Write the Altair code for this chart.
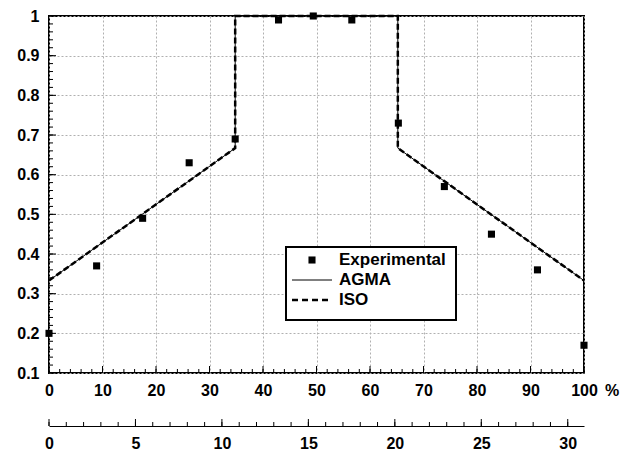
import altair as alt
import pandas as pd

# ---- data ----
exp_x = [0, 8.9, 17.5, 26.2, 34.8, 42.9, 49.4, 56.6, 65.3, 73.9, 82.7, 91.3, 100]
exp_y = [0.20, 0.37, 0.49, 0.63, 0.69, 0.99, 1.00, 0.99, 0.73, 0.57, 0.45, 0.36, 0.17]

model_x = [0, 34.8, 34.8, 65.2, 65.2, 100]
model_y = [0.333, 0.667, 1.0, 1.0, 0.667, 0.333]

series = ["Experimental", "AGMA", "ISO"]
unit_label = ["%"]

x_major = list(range(0, 101, 10))
x_minor = list(range(0, 101, 2))
y_major = [round(0.1 * i, 2) for i in range(1, 11)]
y_minor = [round(0.1 + 0.02 * i, 2) for i in range(0, 46)]
sec_major = [0, 5, 10, 15, 20, 25, 30]
sec_minor = list(range(0, 31))
sec_max = 30.94

W, H = 535, 357
FONT = "Liberation Sans"
OFF = 53

xs = alt.Scale(domain=[0, 100], nice=False, zero=False)
ys = alt.Scale(domain=[0.1, 1.0], nice=False, zero=False)
x2s = alt.Scale(domain=[0, sec_max], nice=False, zero=False)

exp_df = pd.DataFrame({"x": exp_x, "y": exp_y})
model_df = pd.concat([
    pd.DataFrame({"x": model_x, "y": model_y, "o": list(range(len(model_x))), "s": s})
    for s in ["AGMA", "ISO"]
])

grid_kw = dict(grid=True, gridColor="#b0b0b0", gridDash=[2, 2], gridWidth=1)
lab_kw = dict(labelFont=FONT, labelFontSize=16, labelFontWeight="bold", labelColor="black")

x_axis = alt.Axis(values=x_major, ticks=False, domain=False, labelPadding=9, title=None,
                  orient="bottom", labelFlush=False, **grid_kw, **lab_kw)
y_axis = alt.Axis(values=y_major, ticks=False, domain=False, labelPadding=10, title=None,
                  labelFlush=False, format="~g", **grid_kw, **lab_kw)

X = lambda f: alt.X(f, scale=xs, axis=x_axis)
Y = lambda f: alt.Y(f, scale=ys, axis=y_axis)

agma = alt.Chart(model_df).transform_filter(alt.datum.s == "AGMA").mark_line(
    color="black", strokeWidth=1).encode(x=X("x:Q"), y=Y("y:Q"), order="o:Q")

iso = alt.Chart(model_df).transform_filter(alt.datum.s == "ISO").mark_line(
    color="black", strokeWidth=2.5, strokeDash=[6, 3]).encode(
    x=X("x:Q"), y=Y("y:Q"), order="o:Q")

pts = alt.Chart(exp_df).mark_point(shape="square", filled=True, color="black",
                                   size=50, opacity=1).encode(x=X("x:Q"), y=Y("y:Q"))

# inward ticks
def xticks(vals, ln):
    return alt.Chart(pd.DataFrame({"x": vals})).mark_rule(color="black", strokeWidth=1).encode(
        x=X("x:Q"), y=alt.value(H), y2=alt.value(H - ln))

def yticks(vals, ln):
    return alt.Chart(pd.DataFrame({"y": vals})).mark_rule(color="black", strokeWidth=1).encode(
        y=Y("y:Q"), x=alt.value(0), x2=alt.value(ln))

# legend
leg_df = pd.DataFrame({"label": series})
leg_box = alt.Chart(leg_df.head(1)).mark_rect(fill="white", stroke="black", strokeWidth=2).encode(
    x=alt.value(237), x2=alt.value(407), y=alt.value(231), y2=alt.value(304))
leg_pt = alt.Chart(leg_df.head(1)).mark_point(shape="square", filled=True, color="black",
                                             size=50, opacity=1).encode(
    x=alt.value(263), y=alt.value(244))
leg_agma = alt.Chart(leg_df.head(1)).mark_rule(color="black", strokeWidth=1).encode(
    x=alt.value(243), x2=alt.value(283), y=alt.value(264))
leg_iso = alt.Chart(leg_df.head(1)).mark_rule(color="black", strokeWidth=2.5,
                                             strokeDash=[6, 4]).encode(
    x=alt.value(243), x2=alt.value(283), y=alt.value(284))
leg_txt = [
    alt.Chart(leg_df).transform_filter(alt.datum.label == lab).mark_text(
        align="left", baseline="middle", font=FONT, fontSize=17, fontWeight="bold",
        color="black").encode(text="label:N", x=alt.value(290), y=alt.value(yy))
    for lab, yy in zip(series, [244, 264, 284])
]

unit = alt.Chart(pd.DataFrame({"u": unit_label})).mark_text(
    align="left", baseline="middle", font=FONT, fontSize=16, fontWeight="bold",
    color="black").encode(text="u:N", x=alt.value(556), y=alt.value(H + 18))

main = alt.layer(agma, iso, pts, xticks(x_minor, 4), xticks(x_major, 7),
                 yticks(y_minor, 4), yticks(y_major, 7),
                 leg_box, leg_pt, leg_agma, leg_iso, *leg_txt, unit)

# secondary axis
sec_axis = alt.Axis(values=sec_major, ticks=False, domain=True, domainColor="black",
                    domainWidth=1.2, orient="bottom", offset=OFF, labelPadding=9,
                    title=None, grid=False, labelFlush=False, **lab_kw)
sec_major_r = alt.Chart(pd.DataFrame({"v": sec_major})).mark_rule(
    color="black", strokeWidth=1).encode(
    x=alt.X("v:Q", scale=x2s, axis=sec_axis), y=alt.value(H + OFF), y2=alt.value(H + OFF - 7))
sec_minor_r = alt.Chart(pd.DataFrame({"v": sec_minor})).mark_rule(
    color="black", strokeWidth=1).encode(
    x=alt.X("v:Q", scale=x2s, axis=sec_axis), y=alt.value(H + OFF), y2=alt.value(H + OFF - 4))
sec = alt.layer(sec_major_r, sec_minor_r)

chart = alt.layer(main, sec).resolve_scale(x="independent").properties(
    width=W, height=H,
    autosize=alt.AutoSizeParams(type="none"),
    padding={"left": 41, "top": 8, "right": 40, "bottom": 82},
    background="white",
).configure_view(stroke="black", strokeWidth=2)

chart.save("out.html", embed_options={"renderer": "svg", "actions": False})
